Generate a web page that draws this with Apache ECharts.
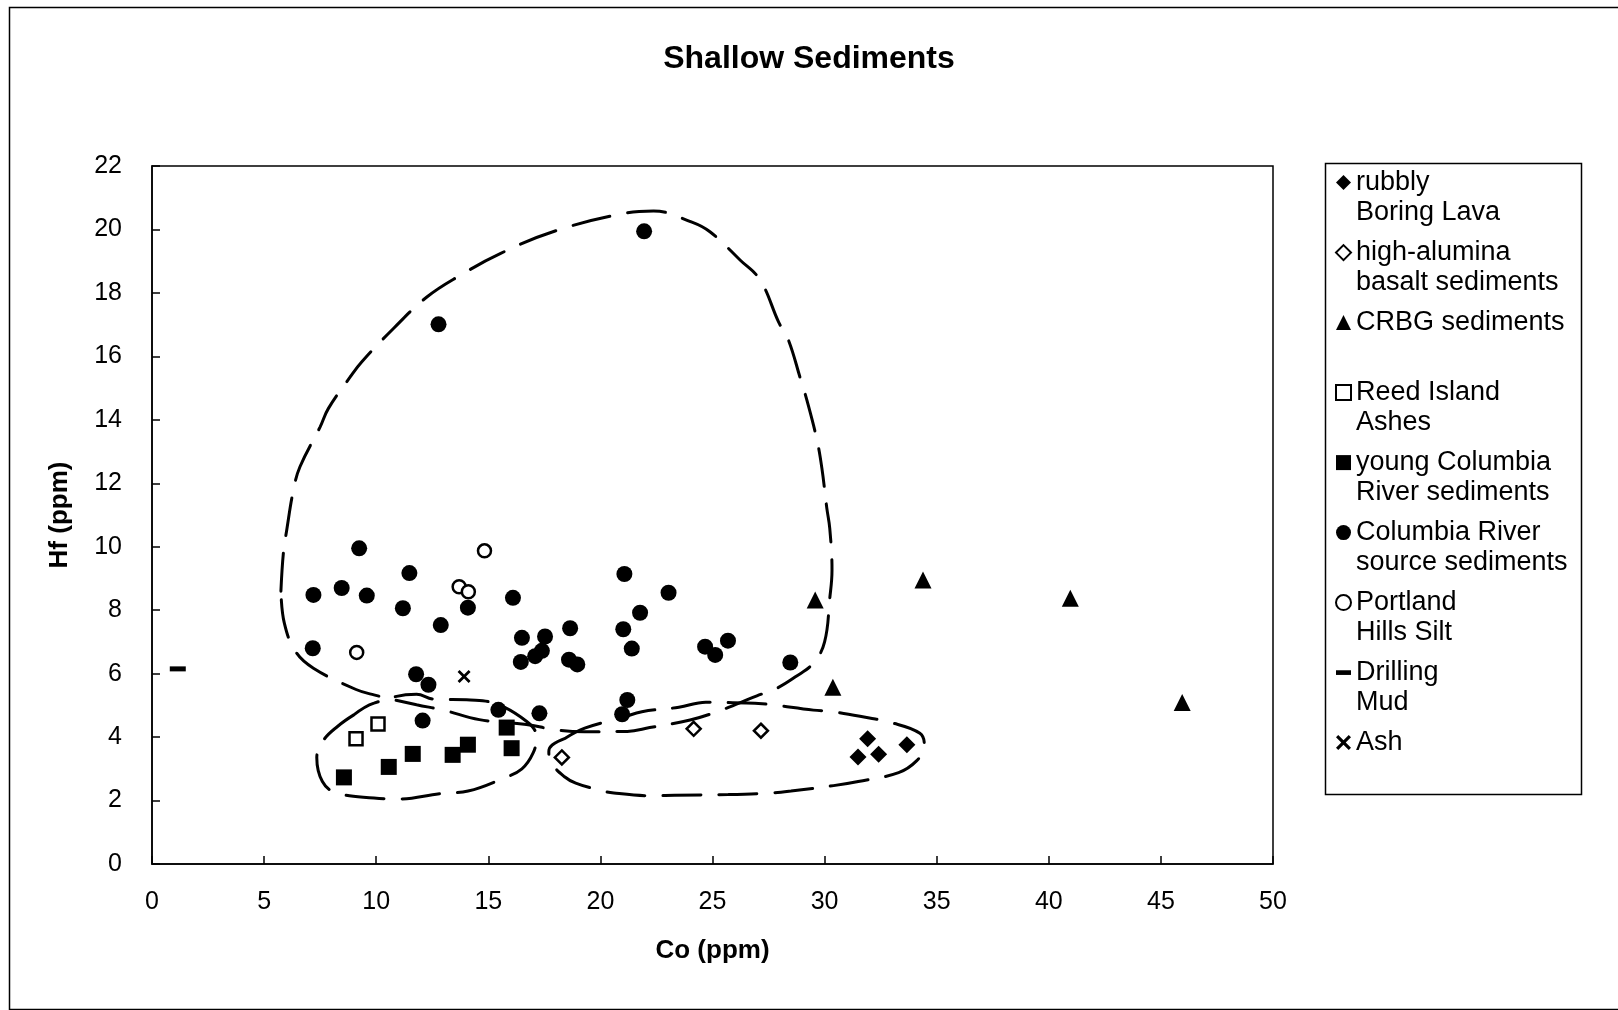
<!DOCTYPE html>
<html>
<head>
<meta charset="utf-8">
<title>Shallow Sediments</title>
<script src="https://cdn.jsdelivr.net/npm/echarts@6/dist/echarts.min.js"></script>
<style>
  html, body { margin: 0; padding: 0; background: #fff; }
  #chart { width: 1618px; height: 1010px; }
</style>
</head>
<body>
<div id="chart"></div>
<script>
// Co (ppm) vs Hf (ppm) for shallow sediment groups
const rubblyBoringLava = [[31.92, 3.95], [31.49, 3.37], [32.41, 3.46], [33.67, 3.76]];
const highAluminaBasalt = [[18.28, 3.36], [24.16, 4.26], [27.16, 4.20]];
const crbgSediments = [[29.58, 8.32], [34.39, 8.95], [30.37, 5.57], [40.96, 8.38], [45.95, 5.09]];
const reedIslandAshes = [[9.10, 3.95], [10.08, 4.41]];
const youngColumbiaRiver = [[8.56, 2.73], [10.56, 3.06], [11.63, 3.47], [13.41, 3.44], [14.09, 3.76], [15.82, 4.30], [16.04, 3.65]];
const columbiaRiverSource = [
  [21.95, 19.94], [12.78, 17.01], [9.24, 9.95], [11.48, 9.17], [7.20, 8.48], [8.46, 8.70],
  [9.58, 8.46], [11.19, 8.06], [14.09, 8.08], [16.10, 8.39], [12.88, 7.53], [7.17, 6.80],
  [11.78, 5.98], [12.33, 5.65], [16.50, 7.13], [17.53, 7.17], [18.65, 7.43], [16.45, 6.37],
  [17.09, 6.55], [17.39, 6.72], [18.60, 6.44], [18.97, 6.29], [21.07, 9.14], [21.77, 7.92],
  [21.02, 7.40], [21.40, 6.79], [15.45, 4.86], [17.28, 4.75], [12.07, 4.52], [21.20, 5.17],
  [20.97, 4.72], [23.04, 8.55], [24.67, 6.85], [25.12, 6.59], [25.69, 7.04], [28.47, 6.35]
];
const portlandHillsSilt = [[14.83, 9.87], [13.70, 8.74], [14.11, 8.58], [9.13, 6.67]];
const drillingMud = [[1.15, 6.15]];
const ashPoints = [[13.92, 5.91]];

// Hand-drawn group outlines (dashed loops), in Co/Hf units
const sourceOutline = [
  [5.75, 8.6], [5.86, 9.8], [6.01, 10.53], [6.31, 11.79], [6.6, 12.52], [7.5, 13.78],
  [7.87, 14.36], [8.84, 15.35], [9.36, 15.83], [10.77, 16.88], [12.26, 17.87], [13.74, 18.55],
  [15.53, 19.24], [18.06, 19.97], [21.18, 20.52], [22.37, 20.58], [24.08, 20.23],
  [24.9, 19.92], [26.24, 19.03], [27.13, 18.4], [27.95, 17.08], [28.39, 16.51], [28.92, 15.3],
  [29.21, 14.62], [29.66, 13.36], [29.88, 12.47], [30.1, 11.21], [30.23, 10.58], [30.33, 9.27],
  [30.23, 8.37], [30.0, 7.0], [29.5, 6.33], [28.7, 5.9], [27.87, 5.54], [26.98, 5.3],
  [25.2, 4.8], [24.0, 4.54], [22.2, 4.3], [21.2, 4.18], [19.3, 4.17], [18.0, 4.23],
  [16.7, 4.4], [14.6, 4.55], [13.0, 4.85], [11.8, 5.02], [9.9, 5.33], [9.1, 5.5],
  [7.2, 6.17], [6.4, 6.7], [5.9, 7.6], [5.75, 8.6]
];
const youngOutline = [
  [9.0, 4.7], [8.3, 4.35], [7.65, 3.9], [7.35, 3.35], [7.6, 2.6], [8.2, 2.25], [9.9, 2.08],
  [11.0, 2.05], [12.85, 2.22], [14.1, 2.3], [15.6, 2.68], [16.5, 3.0], [17.0, 3.5],
  [17.15, 4.0], [16.7, 4.5], [15.1, 5.1], [14.2, 5.17], [12.55, 5.2], [11.8, 5.35],
  [9.9, 5.07], [9.0, 4.7]
];
const basaltOutline = [
  [18.45, 3.97], [19.3, 4.28], [21.0, 4.62], [21.85, 4.8], [23.5, 4.94], [24.7, 5.1],
  [27.05, 5.06], [27.65, 5.02], [29.5, 4.85], [30.35, 4.8], [32.0, 4.6], [32.85, 4.48],
  [34.25, 4.12], [34.45, 3.7], [34.1, 3.25], [33.3, 2.88], [31.5, 2.6], [30.4, 2.47],
  [28.5, 2.3], [27.6, 2.24], [25.7, 2.19], [23.3, 2.17], [22.4, 2.15], [20.6, 2.24],
  [19.9, 2.34], [18.9, 2.55], [18.4, 2.75], [17.8, 3.2], [17.7, 3.55], [17.85, 3.75],
  [18.45, 3.97]
];

const seriesNames = [
  'rubbly Boring Lava', 'high-alumina basalt sediments', 'CRBG sediments',
  'Reed Island Ashes', 'young Columbia River sediments', 'Columbia River source sediments',
  'Portland Hills Silt', 'Drilling Mud', 'Ash'
];
const legendLabels = [
  'rubbly\nBoring Lava', 'high-alumina\nbasalt sediments', 'CRBG sediments\n ',
  'Reed Island\nAshes', 'young Columbia\nRiver sediments', 'Columbia River\nsource sediments',
  'Portland\nHills Silt', 'Drilling\nMud', 'Ash\n '
];

const FONT = '"Liberation Sans", Arial, Helvetica, sans-serif';
const INK = '#000';
const crossPath = 'path://M0,1.5L1.5,0L5,3.5L8.5,0L10,1.5L6.5,5L10,8.5L8.5,10L5,6.5L1.5,10L0,8.5L3.5,5Z';
const dashPath = 'path://M0,0H16V5H0Z';

const filled = { color: INK, opacity: 1 };
const hollow = { color: '#fff', borderColor: INK, borderWidth: 2.5, opacity: 1 };

function scatter(name, data, symbol, size, style) {
  return { name, type: 'scatter', data, symbol, symbolSize: size, itemStyle: style, z: 3,
           emphasis: { disabled: true } };
}
function outline(data) {
  return { type: 'line', data, smooth: 0.4, symbol: 'none', silent: true, z: 2,
           lineStyle: { color: INK, width: 3, type: [38, 18], cap: 'round' } };
}

const chart = echarts.init(document.getElementById('chart'), null, { renderer: 'canvas' });
chart.setOption({
  backgroundColor: '#fff',
  animation: false,
  title: {
    text: 'Shallow Sediments', left: 'center', top: 43, padding: 0,
    textStyle: { fontFamily: FONT, fontSize: 32, fontWeight: 'bold', color: INK }
  },
  grid: {
    left: 152, right: 345, top: 166, bottom: 146,
    show: true, borderColor: INK, borderWidth: 1.5, backgroundColor: 'transparent'
  },
  xAxis: {
    type: 'value', min: 0, max: 50, interval: 5,
    name: 'Co (ppm)', nameLocation: 'middle', nameGap: 74,
    nameTextStyle: { fontFamily: FONT, fontSize: 26, fontWeight: 'bold', color: INK },
    axisLine: { lineStyle: { color: INK, width: 1.5 } },
    axisTick: { inside: true, length: 8, lineStyle: { color: INK, width: 1.5 } },
    axisLabel: { fontFamily: FONT, fontSize: 25, color: INK, margin: 26 },
    splitLine: { show: false }
  },
  yAxis: {
    type: 'value', min: 0, max: 22, interval: 2,
    name: 'Hf (ppm)', nameLocation: 'middle', nameGap: 79,
    nameTextStyle: { fontFamily: FONT, fontSize: 26, fontWeight: 'bold', color: INK },
    axisLine: { lineStyle: { color: INK, width: 1.5 } },
    axisTick: { inside: true, length: 8, lineStyle: { color: INK, width: 1.5 } },
    axisLabel: { fontFamily: FONT, fontSize: 25, color: INK, margin: 30 },
    splitLine: { show: false }
  },
  legend: {
    orient: 'vertical', left: 1335, top: 137.6, padding: 0,
    itemWidth: 15, itemHeight: 15, itemGap: -20, itemTextGap: 8,
    selectedMode: false,
    textStyle: { fontFamily: FONT, fontSize: 27, lineHeight: 30, color: INK },
    formatter: name => '\n' + legendLabels[seriesNames.indexOf(name)],
    data: seriesNames.map((n, i) => {
      if (i === 7) return { name: n, icon: dashPath };
      if (i === 8) return { name: n, icon: crossPath };
      return { name: n };
    })
  },
  graphic: [
    { type: 'rect', left: 7, top: 5, shape: { width: 1610, height: 1002 },
      style: { fill: 'none', stroke: INK, lineWidth: 1.5 }, silent: true, z: -1 },
    { type: 'rect', left: 1323, top: 161, shape: { width: 256, height: 631 },
      style: { fill: 'none', stroke: INK, lineWidth: 1.5 }, silent: true }
  ],
  series: [
    outline(sourceOutline),
    outline(youngOutline),
    outline(basaltOutline),
    scatter(seriesNames[0], rubblyBoringLava, 'diamond', 17, filled),
    scatter(seriesNames[1], highAluminaBasalt, 'diamond', 14, hollow),
    scatter(seriesNames[2], crbgSediments, 'triangle', 17, filled),
    scatter(seriesNames[3], reedIslandAshes, 'rect', 13, hollow),
    scatter(seriesNames[4], youngColumbiaRiver, 'rect', 16, filled),
    scatter(seriesNames[5], columbiaRiverSource, 'circle', 16, filled),
    scatter(seriesNames[6], portlandHillsSilt, 'circle', 13, hollow),
    scatter(seriesNames[7], drillingMud, 'rect', [16, 5], filled),
    scatter(seriesNames[8], ashPoints, crossPath, 13, filled)
  ]
});
</script>
</body>
</html>
